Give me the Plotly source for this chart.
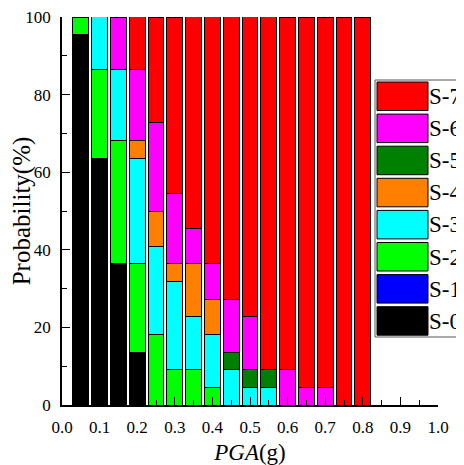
import plotly.graph_objects as go

pga = [0.05, 0.10, 0.15, 0.20, 0.25, 0.30, 0.35, 0.40, 0.45, 0.50, 0.55, 0.60, 0.65, 0.70, 0.75, 0.80]

s0 = [95.45, 63.64, 36.36, 13.64, 0, 0, 0, 0, 0, 0, 0, 0, 0, 0, 0, 0]
s1 = [0, 0, 0, 0, 0, 0, 0, 0, 0, 0, 0, 0, 0, 0, 0, 0]
s2 = [4.55, 22.73, 31.82, 22.73, 18.18, 9.09, 9.09, 4.55, 0, 0, 0, 0, 0, 0, 0, 0]
s3 = [0, 13.64, 18.18, 27.27, 22.73, 22.73, 13.64, 13.64, 9.09, 4.55, 4.55, 0, 0, 0, 0, 0]
s4 = [0, 0, 0, 4.55, 9.09, 4.55, 13.64, 9.09, 0, 0, 0, 0, 0, 0, 0, 0]
s5 = [0, 0, 0, 0, 0, 0, 0, 0, 4.55, 4.55, 4.55, 0, 0, 0, 0, 0]
s6 = [0, 0, 13.64, 18.18, 22.73, 18.18, 9.09, 9.09, 13.64, 13.64, 0, 9.09, 4.55, 4.55, 0, 0]
s7 = [0, 0, 0, 13.64, 27.27, 45.45, 54.55, 63.64, 72.73, 77.27, 90.91, 90.91, 95.45, 95.45, 100, 100]

names = ["S-0", "S-1", "S-2", "S-3", "S-4", "S-5", "S-6", "S-7"]
series = [s0, s1, s2, s3, s4, s5, s6, s7]
colors = ["#000000", "#0000FF", "#00FF00", "#00FFFF", "#FF8000", "#008000", "#FF00FF", "#FF0000"]

x_ticks = [0.0, 0.1, 0.2, 0.3, 0.4, 0.5, 0.6, 0.7, 0.8, 0.9, 1.0]
y_ticks = [0, 20, 40, 60, 80, 100]

FONT = "Liberation Serif"

fig = go.Figure()
for name, vals, col in zip(names, series, colors):
    fig.add_trace(go.Bar(
        x=pga, y=[v if v > 0 else None for v in vals], name=name,
        marker=dict(color=col, line=dict(color="#000000", width=1)),
        width=0.042, showlegend=False,
    ))

# custom legend (large swatches, like the reference); positions in window px
W, H = 376.0, 388.0  # plot area size in px
def px_x(p):
    return (p - 62) / W
def px_y(p):
    return (405 - p) / H

shapes = []
annotations = []
shapes.append(dict(type="rect", xref="paper", yref="paper",
                   x0=px_x(375), x1=px_x(475), y0=px_y(337), y1=px_y(80),
                   line=dict(color="#555555", width=1), fillcolor="white", layer="above"))
for i, (name, col) in enumerate(zip(names[::-1], colors[::-1])):
    top = 82 + i * 32.1
    shapes.append(dict(type="rect", xref="paper", yref="paper",
                       x0=px_x(377), x1=px_x(428), y0=px_y(top + 28.5), y1=px_y(top),
                       line=dict(color="#000000", width=1), fillcolor=col, layer="above"))
    annotations.append(dict(text=name, xref="paper", yref="paper",
                            x=px_x(427), y=px_y(top + 14.5), xanchor="left", yanchor="middle",
                            showarrow=False, font=dict(family=FONT, size=23, color="black")))

# page has an 8px body margin, so the figure is 456x457 and margins are shifted by 8px
fig.update_layout(
    barmode="stack",
    width=456, height=457,
    margin=dict(l=54, r=26, t=9, b=60),
    paper_bgcolor="white", plot_bgcolor="white",
    font=dict(family=FONT, size=17, color="black"),
    shapes=shapes, annotations=annotations,
)
fig.update_xaxes(
    range=[0, 1.0], tickvals=x_ticks, ticktext=[f"{v:.1f}" for v in x_ticks],
    ticks="inside", ticklen=8, tickwidth=1, tickcolor="black",
    minor=dict(dtick=0.05, tick0=0, ticks="inside", ticklen=5, tickcolor="black"),
    showline=True, linecolor="black", linewidth=1.5, showgrid=False, zeroline=False,
    tickfont=dict(family=FONT, size=17), automargin=False, ticklabeloverflow="allow",
    ticklabelstandoff=6,
    title=dict(text="<i>PGA</i>(g)", font=dict(family=FONT, size=23), standoff=10),
)
fig.update_yaxes(
    range=[0, 100], tickvals=y_ticks,
    ticks="inside", ticklen=8, tickwidth=1, tickcolor="black",
    minor=dict(dtick=10, tick0=0, ticks="inside", ticklen=5, tickcolor="black"),
    showline=True, linecolor="black", linewidth=1.5, showgrid=False, zeroline=False,
    tickfont=dict(family=FONT, size=17), automargin=False, ticklabeloverflow="allow",
    ticklabelstandoff=6,
    title=dict(text="Probability(%)", font=dict(family=FONT, size=25), standoff=6),
)

fig.write_html("out.html")
